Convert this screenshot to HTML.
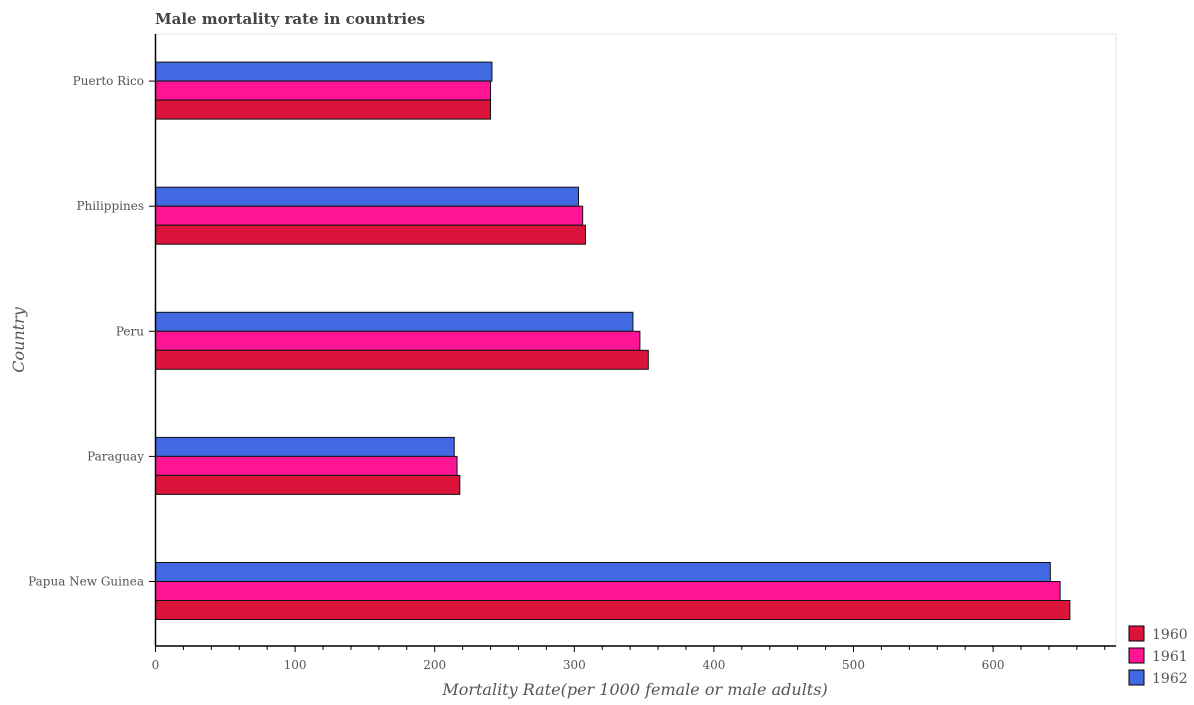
<!DOCTYPE html>
<html><head><meta charset="utf-8"><style>
body{margin:0;background:#fff;}
svg text{font-family:"DejaVu Serif","Liberation Serif",serif;fill:#555;}
</style></head><body>
<svg width="1194" height="700" id="c">
<text x="155" y="24" font-size="15" font-weight="bold" style="fill:#444">Male mortality rate in countries</text>
<line x1="155.5" y1="34" x2="1116" y2="34" stroke="#e6e6e6"/>
<line x1="1116" y1="34" x2="1116" y2="646" stroke="#e6e6e6"/>
<g id="bars"></g>
<line x1="155.5" y1="34" x2="155.5" y2="646" stroke="#000" stroke-width="1.5"/>
<line x1="155.5" y1="646" x2="1116" y2="646" stroke="#000" stroke-width="1.5"/>
<g id="axes"></g>
<text x="635" y="695" font-size="16" font-style="italic" text-anchor="middle">Mortality Rate(per 1000 female or male adults)</text>
<text transform="translate(24,340) rotate(-90)" font-size="16" font-style="italic" text-anchor="middle">Country</text>
<g id="legend"></g>
</svg>
<script>
const categories=["Papua New Guinea","Paraguay","Peru","Philippines","Puerto Rico"];
const s1960=[655,218,353,308,240];
const s1961=[648,216,347,306,240];
const s1962=[641,214,342,303,241];
const seriesNames=["1960","1961","1962"];
const xTicks=[0,100,200,300,400,500,600];
const colors=["#dc143c","#ff1493","#4169e1"];
const ns="http://www.w3.org/2000/svg";
const x=v=>155.5+v*1.396;
const catY=i=>581.5-i*125.1;
function mk(t,a,p){const e=document.createElementNS(ns,t);for(const k in a)e.setAttribute(k,a[k]);p.appendChild(e);return e;}
const bars=document.getElementById('bars'),axes=document.getElementById('axes'),leg=document.getElementById('legend');
const series=[s1962,s1961,s1960],cols=[colors[2],colors[1],colors[0]],nm=["1962","1961","1960"];
categories.forEach((c,i)=>{
  series.forEach((s,j)=>{
    const y=catY(i)-19+j*19;
    const r=mk('rect',{x:155.5,y:y,width:x(s[i])-155.5,height:19,fill:cols[j],stroke:"#111","stroke-width":1},bars);
    
    
  });
  const t=mk('line',{x1:149,x2:155.5,y1:catY(i),y2:catY(i),stroke:"#000"},axes);
  
  
  const l=mk('text',{x:144,y:catY(i)+4,"font-size":"12","text-anchor":"end"},axes);
  l.textContent=c;
  
  
});
for(let v=0;v<=680;v+=20){
  const major=v%100===0;
  const t=mk('line',{x1:x(v),x2:x(v),y1:646,y2:major?652:650,stroke:"#000"},axes);
  
  
}
xTicks.forEach(v=>{
  const l=mk('text',{x:x(v),y:669,"font-size":"12","text-anchor":"middle"},axes);
  l.textContent=v;
  
  
});
seriesNames.forEach((n,k)=>{
  const y=626+k*22;
  const r=mk('rect',{x:1129,y:y,width:15,height:15,fill:colors[k],stroke:"#000"},leg);
  
  
  const t=mk('text',{x:1152,y:y+13,"font-size":"14"},leg);
  t.textContent=n;
  
  
});
</script>
</body></html>
